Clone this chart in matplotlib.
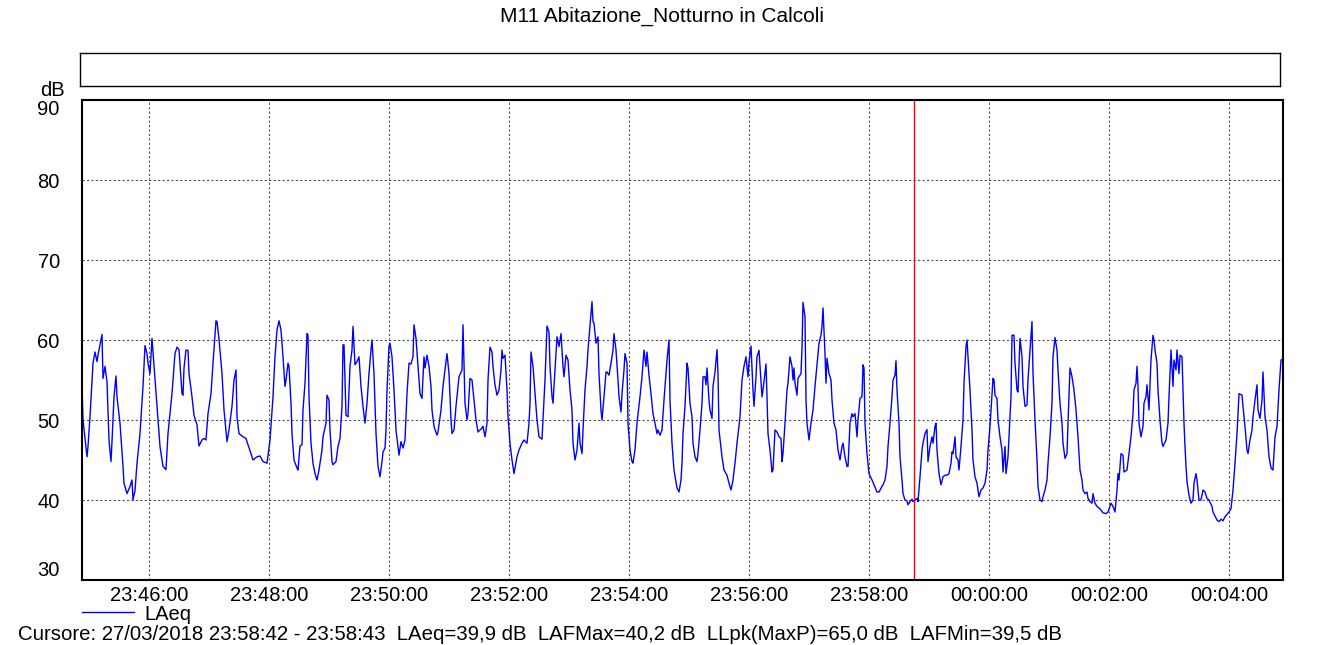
import datetime as dt
import matplotlib
matplotlib.use("Agg")
import matplotlib.pyplot as plt
import matplotlib.dates as mdates
from matplotlib.lines import Line2D

plt.rcParams['font.family'] = ['Liberation Sans', 'DejaVu Sans']

# seconds relative to 23:46:00, LAeq values (dB)
t_sec = [
    -67, -66, -62, -61, -59, -56, -54, -52, -51, -49, -47, -46, -44, -42, -40, -38,
    -37, -35, -33, -32, -29, -26, -25, -22, -19, -17, -16, -14, -12, -9, -6, -4,
    -2, -1, 1, 3, 4, 8, 11, 14, 17, 19, 23, 26, 28, 30, 32, 33,
    34, 35, 37, 39, 40, 43, 45, 48, 50, 53, 55, 57, 59, 62, 64, 67,
    68, 70, 73, 75, 78, 80, 83, 85, 87, 88, 90, 94, 97, 99, 102, 104,
    108, 111, 114, 118, 121, 124, 126, 128, 130, 132, 134, 136, 137, 139, 140, 142,
    143, 145, 148, 149, 151, 153, 154, 156, 158, 159, 160, 162, 164, 166, 168, 170,
    173, 174, 177, 178, 180, 181, 183, 184, 187, 189, 191, 193, 194, 195, 197, 199,
    201, 203, 204, 206, 208, 210, 212, 214, 216, 218, 220, 222, 223, 225, 227, 229,
    231, 233, 234, 236, 237, 238, 240, 241, 243, 245, 247, 249, 250, 252, 254, 256,
    258, 260, 262, 264, 265, 267, 269, 271, 273, 275, 276, 278, 280, 282, 283, 285,
    288, 289, 292, 294, 296, 298, 300, 302, 303, 305, 307, 310, 313, 314, 316, 318,
    319, 321, 323, 325, 327, 329, 331, 333, 334, 336, 338, 339, 341, 343, 344, 346,
    348, 350, 352, 353, 354, 356, 358, 359, 361, 363, 365, 368, 370, 373, 375, 378,
    380, 381, 382, 384, 386, 388, 390, 393, 394, 396, 398, 400, 401, 403, 404, 406,
    408, 410, 412, 414, 415, 417, 419, 421, 423, 424, 426, 428, 430, 431, 433, 434,
    436, 438, 439, 441, 443, 444, 445, 447, 449, 450, 452, 453, 455, 457, 458, 460,
    462, 464, 465, 467, 469, 470, 472, 473, 475, 476, 478, 479, 481, 483, 484, 486,
    488, 491, 493, 495, 497, 498, 500, 502, 504, 506, 508, 509, 511, 513, 515, 517,
    518, 520, 521, 523, 525, 528, 530, 532, 533, 534, 536, 538, 539, 541, 543, 544,
    546, 548, 549, 551, 553, 554, 556, 557, 558, 560, 561, 563, 564, 566, 568, 569,
    570, 573, 575, 578, 580, 582, 584, 586, 588, 591, 593, 595, 597, 599, 600, 602,
    604, 605, 607, 608, 610, 613, 614, 617, 618, 619, 621, 623, 624, 626, 628, 630,
    632, 633, 634, 636, 638, 639, 641, 643, 644, 645, 646, 648, 649, 652, 653, 654,
    656, 657, 658, 660, 662, 664, 666, 668, 670, 672, 673, 674, 676, 677, 678, 680,
    682, 683, 685, 687, 689, 691, 693, 694, 696, 698, 699, 701, 703, 704, 706, 708,
    709, 711, 713, 714, 715, 716, 718, 720, 723, 725, 728, 730, 733, 734, 736, 738,
    739, 741, 743, 744, 746, 747, 748, 750, 751, 753, 754, 756, 758, 759, 761, 763,
    764, 766, 768, 769, 771, 773, 774, 776, 778, 779, 781, 783, 784, 786, 787, 788,
    790, 792, 794, 796, 798, 800, 802, 803, 804, 806, 807, 809, 810, 812, 814, 815,
    817, 818, 819, 821, 823, 824, 826, 828, 830, 832, 834, 836, 838, 839, 841, 843,
    844, 845, 846, 848, 849, 851, 853, 854, 856, 857, 859, 860, 862, 863, 865, 866,
    868, 869, 871, 873, 874, 876, 878, 879, 881, 883, 884, 886, 888, 889, 891, 893,
    894, 896, 898, 899, 901, 903, 904, 906, 908, 909, 911, 913, 914, 916, 918, 919,
    920, 921, 923, 925, 927, 929, 931, 933, 934, 936, 938, 939, 941, 943, 944, 946,
    948, 951, 954, 957, 959, 962, 964, 966, 968, 969, 970, 972, 974, 975, 978, 980,
    982, 984, 985, 987, 988, 989, 990, 992, 994, 995, 997, 998, 1000, 1002, 1004, 1005,
    1006, 1008, 1009, 1011, 1013, 1014, 1017, 1019, 1020, 1022, 1024, 1025, 1027, 1028, 1030, 1031,
    1033, 1034, 1035, 1036, 1037, 1038, 1040, 1042, 1044, 1045, 1047, 1048, 1050, 1052, 1054, 1056,
    1058, 1060, 1063, 1064, 1066, 1068, 1070, 1072, 1074, 1076, 1078, 1080, 1082, 1084, 1086, 1088,
    1090, 1093, 1094, 1096, 1098, 1099, 1101, 1103, 1104, 1106, 1108, 1109, 1111, 1113, 1114, 1116,
    1118, 1120, 1122, 1124, 1126, 1128, 1130, 1132, 1134,
]
laeq = [
    54.4, 50.0, 45.4, 46.7, 50.4, 57.1, 58.5, 57.3, 58.1, 59.4, 60.7, 55.2, 56.7, 54.8, 47.5, 44.8,
    47.3, 52.9, 55.5, 52.9, 49.6, 44.2, 42.1, 40.8, 41.7, 42.5, 40.0, 41.2, 44.6, 48.3, 54.2, 59.3,
    58.3, 57.1, 55.8, 60.2, 58.5, 51.7, 46.7, 44.2, 43.8, 48.3, 53.3, 58.3, 59.1, 58.8, 55.0, 53.3,
    53.1, 56.5, 58.75, 58.7, 55.8, 52.9, 50.6, 49.4, 46.75, 47.5, 47.7, 47.5, 50.8, 53.3, 57.1, 62.4,
    62.3, 60.1, 55.8, 51.25, 47.3, 48.75, 51.7, 55.0, 56.25, 50.4, 48.3, 47.9, 47.7, 46.9, 45.8, 45.0,
    45.4, 45.5, 44.8, 44.6, 47.5, 52.9, 57.9, 61.25, 62.4, 61.25, 57.9, 54.2, 55.0, 57.1, 56.7, 52.1,
    48.3, 45.0, 44.0, 43.75, 46.75, 46.9, 51.25, 54.6, 60.8, 60.6, 52.9, 47.1, 44.6, 43.3, 42.5, 43.75,
    46.25, 47.9, 49.6, 53.1, 52.5, 48.75, 44.8, 44.4, 44.8, 46.7, 47.7, 51.7, 59.4, 59.4, 50.6, 50.4,
    56.7, 58.75, 61.7, 56.9, 57.3, 57.9, 54.2, 51.7, 49.6, 52.1, 55.8, 58.75, 60.0, 55.8, 48.3, 44.2,
    42.9, 44.8, 46.0, 46.5, 48.75, 53.75, 59.2, 59.6, 57.9, 53.75, 48.75, 46.7, 45.6, 47.3, 46.5, 47.5,
    53.3, 57.1, 57.0, 57.9, 61.9, 60.2, 56.7, 53.3, 52.7, 57.9, 56.5, 58.1, 56.7, 54.2, 51.25, 49.2,
    48.1, 48.5, 51.25, 54.2, 56.25, 58.3, 55.8, 50.0, 48.3, 48.75, 51.7, 55.4, 56.25, 61.9, 52.1, 50.0,
    50.8, 55.2, 55.0, 52.5, 50.0, 48.5, 48.75, 49.0, 49.2, 47.9, 49.6, 55.0, 59.1, 58.5, 56.7, 54.4,
    53.1, 53.75, 56.25, 58.75, 57.7, 58.1, 53.75, 50.4, 47.1, 45.0, 43.3, 45.4, 46.25, 47.1, 47.5, 47.1,
    49.6, 52.1, 58.5, 56.7, 53.3, 50.0, 47.9, 47.6, 50.0, 55.0, 61.75, 61.0, 56.7, 52.9, 52.1, 56.25,
    60.4, 59.2, 60.8, 56.7, 55.4, 58.1, 57.5, 53.75, 51.25, 47.1, 45.0, 46.25, 49.6, 47.1, 45.8, 48.75,
    53.75, 56.7, 58.75, 61.7, 64.8, 62.3, 62.1, 59.6, 60.4, 55.8, 51.25, 50.0, 52.9, 56.0, 56.0, 55.6,
    57.1, 58.75, 60.8, 58.75, 55.0, 52.9, 51.0, 53.3, 56.25, 58.3, 57.1, 49.6, 46.25, 44.8, 44.6, 46.25,
    49.6, 52.9, 55.4, 58.75, 56.7, 58.5, 55.6, 53.3, 50.8, 49.6, 48.3, 48.75, 48.1, 48.75, 52.5, 55.8,
    57.5, 60.0, 52.5, 47.1, 43.75, 41.5, 41.0, 42.5, 44.6, 48.3, 51.7, 57.1, 56.5, 52.1, 50.4, 47.1,
    45.4, 44.8, 45.8, 48.75, 52.1, 55.4, 55.4, 54.4, 56.5, 52.5, 51.25, 50.2, 54.2, 56.0, 58.8, 55.8,
    48.75, 45.4, 43.75, 43.1, 42.1, 41.25, 42.5, 44.6, 47.1, 50.4, 55.0, 56.7, 57.9, 55.4, 57.3, 59.25,
    53.75, 51.7, 55.4, 57.9, 58.7, 52.9, 53.75, 57.0, 52.9, 48.3, 46.25, 43.5, 43.75, 48.75, 48.5, 47.9,
    47.7, 44.8, 45.8, 49.6, 53.75, 54.6, 57.9, 56.7, 55.0, 56.5, 54.6, 53.1, 55.2, 55.8, 59.0, 64.7,
    62.9, 52.5, 49.6, 47.5, 49.6, 51.25, 54.2, 56.9, 59.6, 60.6, 61.7, 64.0, 58.3, 54.6, 57.7, 55.8,
    55.0, 52.5, 49.6, 48.75, 46.25, 45.0, 46.7, 47.1, 45.4, 44.2, 44.2, 49.6, 50.8, 50.4, 50.8, 47.9,
    50.0, 52.7, 52.9, 56.9, 56.5, 49.6, 45.8, 43.3, 42.5, 41.9, 41.0, 41.0, 41.7, 41.9, 42.5, 44.2,
    46.7, 49.6, 52.9, 55.0, 55.6, 57.4, 53.75, 49.6, 45.4, 42.5, 40.8, 40.0, 39.9, 39.4, 39.8, 40.1,
    39.8, 40.0, 40.2, 39.8, 42.9, 46.25, 47.1, 48.3, 48.8, 44.8, 46.7, 47.9, 47.1, 49.2, 49.6, 46.25,
    43.3, 41.9, 42.9, 43.1, 43.1, 43.3, 44.6, 46.0, 45.8, 47.9, 45.4, 45.0, 43.75, 46.7, 50.0, 54.6,
    59.2, 60.0, 57.9, 53.75, 48.75, 45.0, 42.9, 42.1, 40.4, 41.25, 41.5, 42.1, 43.75, 46.25, 49.2, 53.1,
    55.2, 55.0, 53.1, 52.7, 50.0, 47.9, 46.25, 43.5, 46.7, 43.3, 45.4, 47.9, 52.9, 60.6, 60.6, 57.1,
    53.75, 53.5, 60.2, 57.9, 54.2, 51.7, 51.9, 55.0, 58.75, 62.3, 55.8, 50.0, 45.0, 41.7, 40.0, 39.8,
    40.4, 41.25, 42.5, 44.6, 47.9, 52.1, 57.9, 60.3, 58.75, 56.25, 52.1, 49.6, 47.1, 45.2, 45.8, 49.6,
    52.9, 56.5, 55.4, 53.75, 51.25, 47.9, 43.75, 42.5, 41.25, 40.8, 41.0, 40.2, 39.8, 39.6, 40.8, 39.6,
    39.2, 38.9, 38.4, 38.3, 38.5, 39.6, 39.2, 38.5, 41.25, 43.3, 42.5, 45.8, 45.6, 43.5, 43.75, 45.8,
    47.9, 50.8, 53.75, 54.6, 56.7, 54.2, 49.6, 47.9, 49.2, 52.1, 52.9, 54.4, 51.25, 57.5, 60.6, 60.0,
    58.75, 57.1, 53.75, 50.0, 47.1, 46.7, 47.5, 49.6, 52.9, 58.75, 54.2, 57.5, 56.25, 58.75, 55.8, 58.1,
    57.9, 53.75, 49.6, 46.7, 44.2, 42.3, 40.6, 39.6, 40.0, 42.1, 43.3, 42.5, 40.0, 40.0, 41.25, 41.0,
    40.2, 40.0, 39.2, 38.5, 38.0, 37.5, 37.3, 37.6, 37.4, 37.9, 38.2, 38.5, 38.9, 41.25, 44.6, 48.3,
    53.3, 53.1, 51.7, 49.2, 46.25, 45.8, 47.5, 48.75, 50.4, 52.5, 54.4, 51.25, 50.2, 52.5, 56.0, 50.4,
    48.75, 45.4, 44.0, 43.75, 47.9, 49.2, 53.75, 57.5, 57.6,
]

base = dt.datetime(2018, 3, 27, 23, 46, 0)
times = [base + dt.timedelta(seconds=s) for s in t_sec]
t_start = base + dt.timedelta(seconds=-67)
t_end = base + dt.timedelta(seconds=1134)
cursor_time = base + dt.timedelta(seconds=765)

title = "M11 Abitazione_Notturno in Calcoli"
cursor_text = ("Cursore: 27/03/2018 23:58:42 - 23:58:43  LAeq=39,9 dB  LAFMax=40,2 dB  "
               "LLpk(MaxP)=65,0 dB  LAFMin=39,5 dB")

fs = 14.5

fig = plt.figure(figsize=(13.25, 6.45), dpi=100)
fig.patch.set_facecolor('white')

# empty box under the title
box = fig.add_axes([80 / 1325, 1 - 86 / 645, 1200 / 1325, 33 / 645])
box.set_xticks([])
box.set_yticks([])
for s in box.spines.values():
    s.set_linewidth(1.0)
    s.set_color('black')

ax = fig.add_axes([82 / 1325, 1 - 580 / 645, 1201 / 1325, 480 / 645])
ax.plot(times, laeq, color='#0000FF', linewidth=1.0)
ax.axvline(cursor_time, color='#FF0000', linewidth=1.0)

ax.set_xlim(t_start, t_end)
ax.set_ylim(30, 90)
ax.set_yticks([30, 40, 50, 60, 70, 80, 90])
ax.xaxis.set_major_locator(mdates.MinuteLocator(byminute=range(0, 60, 2)))
ax.xaxis.set_major_formatter(mdates.DateFormatter('%H:%M:%S'))
ax.tick_params(axis='both', length=0, labelsize=fs, pad=4)
ax.tick_params(axis='y', pad=16)
ax.grid(True, color='#555555', linestyle=(0, (2, 2)), linewidth=0.8)
for s in ax.spines.values():
    s.set_linewidth(1.5)
    s.set_color('black')

# end labels sit inside the axis range, as in the reference
ylabels = ax.get_yticklabels()
ylabels[0].set_va('bottom')
ylabels[-1].set_va('top')

fig.text(52 / 1325, 1 - 91 / 645, "dB", fontsize=fs, ha='center', va='center')
fig.text(0.5, 1 - 16 / 645, title, fontsize=15, ha='center', va='center')

leg_handle = Line2D([], [], color='#0000FF', linewidth=1.0)
fig.legend([leg_handle], ["LAeq"], loc='center left',
           bbox_to_anchor=(82 / 1325, 1 - 614 / 645), frameon=False,
           fontsize=fs, handlelength=2.6, handletextpad=0.5,
           borderpad=0, borderaxespad=0)

fig.text(18 / 1325, 1 - 634 / 645, cursor_text, fontsize=14.7, ha='left', va='center')

fig.savefig("out.png", dpi=100)
